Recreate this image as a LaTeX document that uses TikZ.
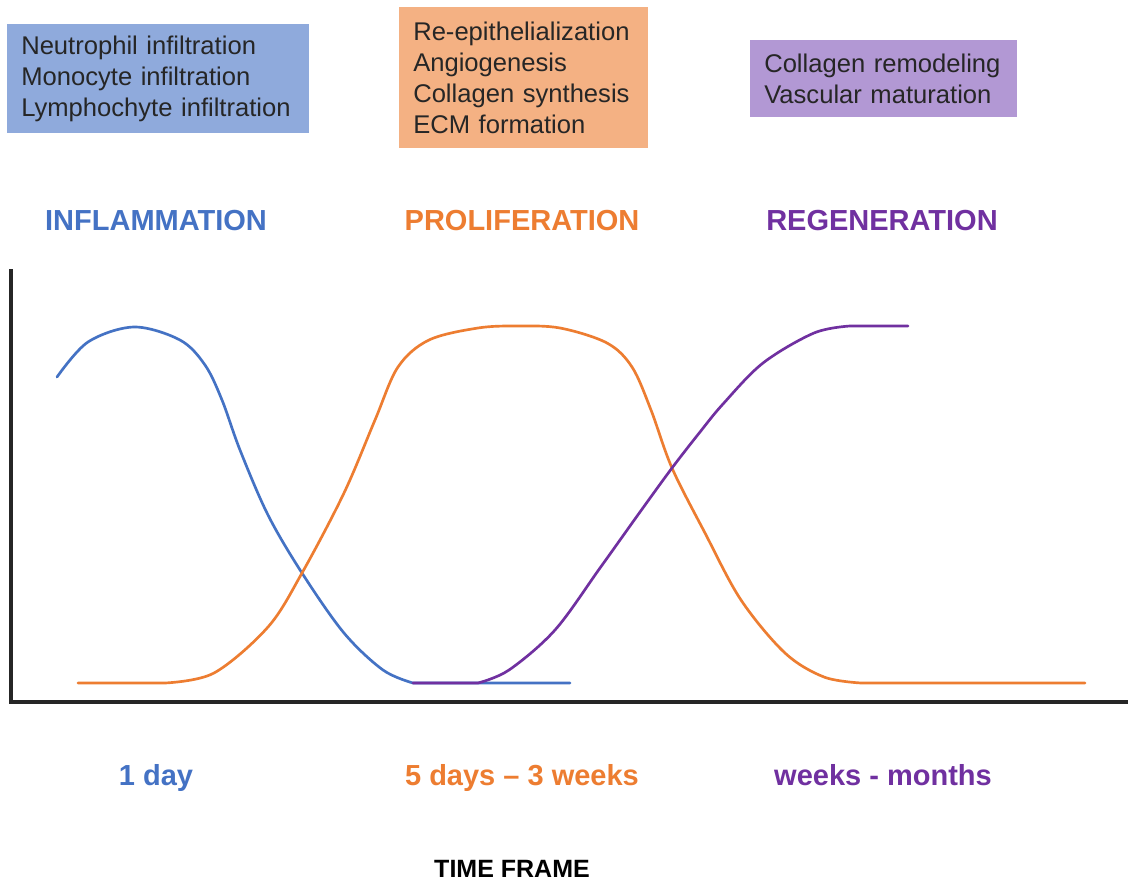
\documentclass[tikz,border=0pt]{standalone}
\usepackage{fontspec}
\setmainfont{Liberation Sans}
\definecolor{infl}{RGB}{68,114,196}
\definecolor{prol}{RGB}{237,125,49}
\definecolor{rege}{RGB}{112,48,160}
\definecolor{inflbox}{RGB}{143,170,220}
\definecolor{prolbox}{RGB}{244,177,131}
\definecolor{regebox}{RGB}{178,152,212}
\begin{document}
\begin{tikzpicture}[x=0.75pt,y=-0.75pt,
  infobox/.style={anchor=north west, inner xsep=10.5pt, inner ysep=0pt,
    align=left, font=\fontsize{19.2}{23.25}\selectfont, text=black!85},
  phase/.style={anchor=base, font=\fontsize{21.75}{26}\selectfont\bfseries},
  curve/.style={line width=2pt, line cap=round, line join=round}]
% canvas
\path[fill=white,use as bounding box] (0,0) rectangle (1128,882);

% activity boxes
\node[infobox, fill=inflbox, minimum width=226.5pt, minimum height=81.75pt,
  text width=205.5pt] (infbox) at (7,24)
  {Neutrophil infiltration\\Monocyte infiltration\\Lymphochyte infiltration};
\node[infobox, fill=prolbox, minimum width=186.75pt, minimum height=105.75pt,
  text width=165.75pt] (prolbox) at (399,7)
  {Re-epithelialization\\Angiogenesis\\Collagen synthesis\\ECM formation};
\node[infobox, fill=regebox, minimum width=200.25pt, minimum height=57.75pt,
  text width=179.25pt] (regebox) at (750,40)
  {Collagen remodeling\\Vascular maturation};

% phase names
\node[phase, text=infl] (inflname) at (156,230) {INFLAMMATION};
\node[phase, text=prol] (prolname) at (522,230) {PROLIFERATION};
\node[phase, text=rege] (regename) at (882,230) {REGENERATION};

% axes
\coordinate (ytop) at (11,269);
\coordinate (origin) at (11,702);
\coordinate (xend) at (1128,702);
\draw[line width=2.4pt, black!85] (ytop) -- (origin) -- (xend);

% inflammation curve
\draw[curve, infl] plot[smooth, tension=0.55] coordinates {
  (57,377) (88,342) (134,327) (180,340) (205,365) (222,400) (240,450)
  (268,515) (302,573) (344,633) (383,670) (413,683)} -- (570,683);

% proliferation curve
\draw[curve, prol] (78,683) -- (165,683) plot[smooth, tension=0.55] coordinates {
  (165,683) (214,673) (268,627) (302,573) (344,493) (375,420) (398,367)
  (429,340) (478,328) (517,326) (560,328) (607,343) (632,367) (651,410)
  (672,468) (705,533) (741,600) (785,653) (824,677) (861,683)} -- (1085,683);

% regeneration curve
\draw[curve, rege] (413,683) -- (478,683) plot[smooth, tension=0.55] coordinates {
  (478,683) (509,670) (555,630) (600,568) (640,512) (672,468) (700,432)
  (723,404) (763,363) (814,333) (850,326)} -- (908,326);

% time spans
\node[phase, text=infl] (infltime) at (156,785) {1 day};
\node[phase, text=prol] (proltime) at (522,785) {5 days – 3 weeks};
\node[phase, text=rege] (regetime) at (883,785) {weeks - months};
\node[anchor=base, font=\fontsize{18.75}{22}\selectfont\bfseries] (timeframe)
  at (512,877) {TIME FRAME};
\end{tikzpicture}
\end{document}
